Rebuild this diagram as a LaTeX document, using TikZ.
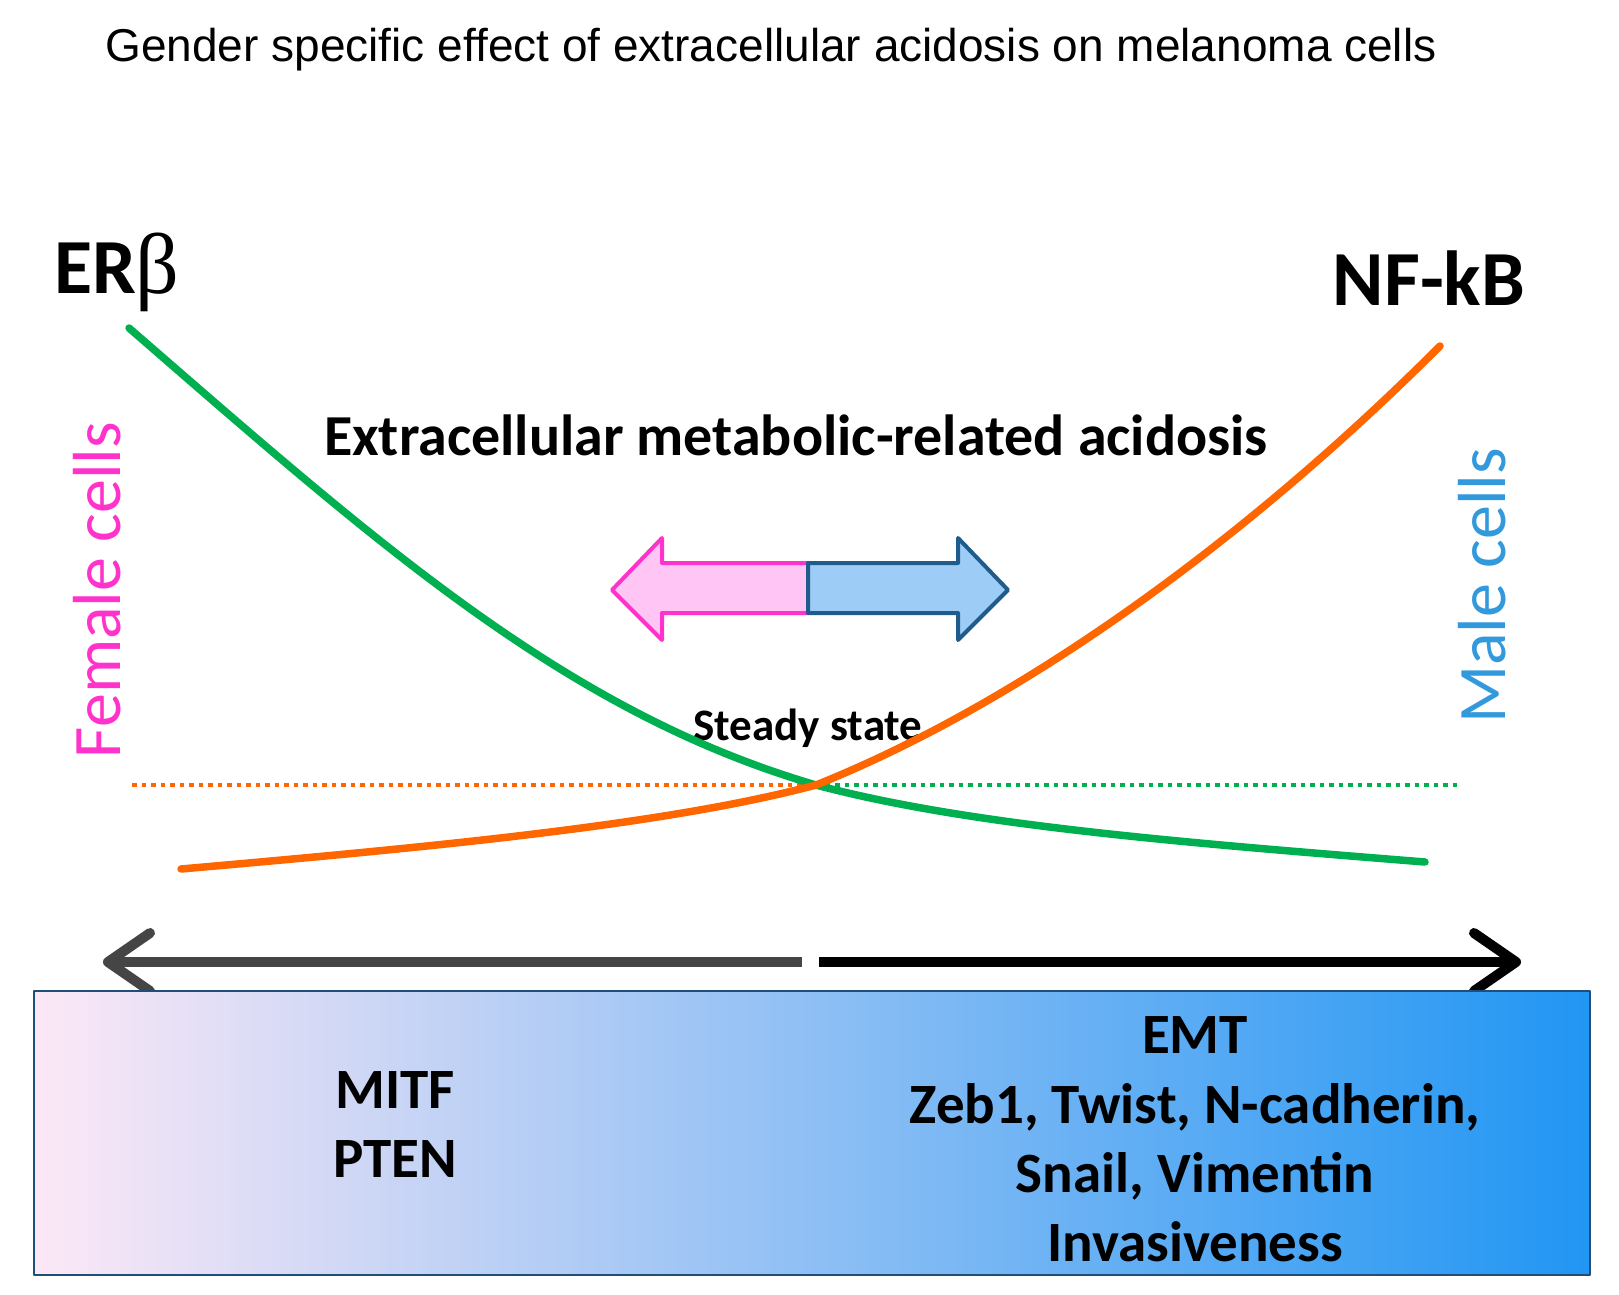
\documentclass[tikz,border=0pt]{standalone}
\usepackage{fontspec}
\setmainfont{Carlito}
\newfontfamily\arialfont{Liberation Sans}
\newfontfamily\greekfont{Liberation Serif}
\usepackage{xcolor}
\usetikzlibrary{arrows,arrows.meta,shapes,positioning,calc}

\definecolor{curvegreen}{HTML}{00B050}
\definecolor{curveorange}{HTML}{FF6600}
\definecolor{femalepink}{HTML}{FF33CC}
\definecolor{femalefill}{HTML}{FFC6F5}
\definecolor{malefill}{HTML}{9DCDF6}
\definecolor{maleborder}{HTML}{1F5C8C}
\definecolor{maleblue}{HTML}{3399DD}
\definecolor{axisgray}{HTML}{454545}
\definecolor{panelborder}{HTML}{1F4E79}
\definecolor{panelleft}{HTML}{FCE8F6}
\definecolor{panelmid}{HTML}{9ED0F6}
\definecolor{panelright}{HTML}{2196F3}

\begin{document}
\begin{tikzpicture}[x=1pt,y=-1pt,line join=round]

	\tikzstyle{every node}=[inner sep=0pt, outer sep=0pt]
	\tikzstyle{bigtext}=[font=\bfseries\fontsize{78}{82}\selectfont]
	\tikzstyle{midtext}=[font=\bfseries\fontsize{58}{62}\selectfont]
	\tikzstyle{boxtext}=[font=\bfseries\fontsize{57}{69}\selectfont, anchor=base]
	\tikzstyle{sidetext}=[font=\fontsize{68}{72}\selectfont, rotate=90, anchor=base]
	\tikzstyle{curve}=[line width=7.5pt, line cap=round]
	\tikzstyle{dots}=[line width=4.5pt, dash pattern=on 4.5pt off 5pt]
	\tikzstyle{axis}=[line width=10pt, -{Straight Barb[length=42pt,width=58pt,round]}]

	\useasboundingbox (0,0) rectangle (1619,1295);

	%title
	\node (title) at (771,50)
	{\arialfont\fontsize{46}{52}\selectfont Gender specific effect of extracellular acidosis on melanoma cells};

	%labels of the two curves
	\node[bigtext, anchor=base west] (erb) at (54,293)
	{ER{\greekfont\mdseries\fontsize{86}{90}\selectfont β}};
	\node[bigtext, anchor=base east] (nfkb) at (1525,305)
	{NF-kB};

	\node[midtext, anchor=base] (acid) at (796,455)
	{Extracellular metabolic-related acidosis};

	\node[sidetext, text=femalepink] (female) at (120,590) {Female cells};
	\node[sidetext, text=maleblue] (male) at (1505,586) {Male cells};

	%crossing point
	\coordinate (steady) at (816,785);
	\node[font=\bfseries\fontsize{45}{48}\selectfont, anchor=base] (steadytext) at (808,740)
	{Steady state};

	%dotted level
	\coordinate (dotleft) at (132,785);
	\coordinate (dotright) at (1461,785);
	\draw[dots, curveorange] (dotleft) -- (steady);
	\draw[dots, curvegreen] (steady) -- (dotright);

	%curves
	\coordinate (greenstart) at (129,328);
	\coordinate (greenend) at (1425,862);
	\coordinate (orangestart) at (181,869);
	\coordinate (orangeend) at (1440,346);

	\draw[curve, curvegreen] (greenstart)
		.. controls (379,545) and (566,712) .. (steady)
		.. controls (966,825) and (1175,842) .. (greenend);
	\draw[curve, curveorange] (orangestart)
		.. controls (431,847) and (666,825) .. (steady)
		.. controls (1016,705) and (1240,546) .. (orangeend);

	%block arrow
	\draw[line width=4pt, fill=femalefill, draw=femalepink]
		(612,590) -- (662,538) -- (662,563) -- (808,563)
		-- (808,613) -- (662,613) -- (662,640) -- cycle;
	\draw[line width=4pt, fill=malefill, draw=maleborder]
		(808,563) -- (958,563) -- (958,538) -- (1008,590)
		-- (958,640) -- (958,613) -- (808,613) -- cycle;

	%double axis arrow
	\coordinate (axisleft) at (103,962);
	\coordinate (axismidl) at (802,962);
	\coordinate (axismidr) at (819,962);
	\coordinate (axisright) at (1521,962);
	\draw[axis, axisgray] (axismidl) -- (axisleft);
	\draw[axis, black] (axismidr) -- (axisright);

	%gradient panel
	\node[draw=panelborder, line width=2.5pt,
		minimum width=1556pt, minimum height=284pt,
		left color=panelleft, middle color=panelmid, right color=panelright]
		(panel) at (812,1133) {};

	\node[boxtext] (mitf) at (395,1108) {MITF};
	\node[boxtext] (pten) at (395,1177) {PTEN};

	\node[boxtext] (emt) at (1195,1053) {EMT};
	\node[boxtext] (zeb) at (1195,1123) {Zeb1, Twist, N-cadherin,};
	\node[boxtext] (snail) at (1195,1192) {Snail, Vimentin};
	\node[boxtext] (invas) at (1195,1261) {Invasiveness};

\end{tikzpicture}
\end{document}
